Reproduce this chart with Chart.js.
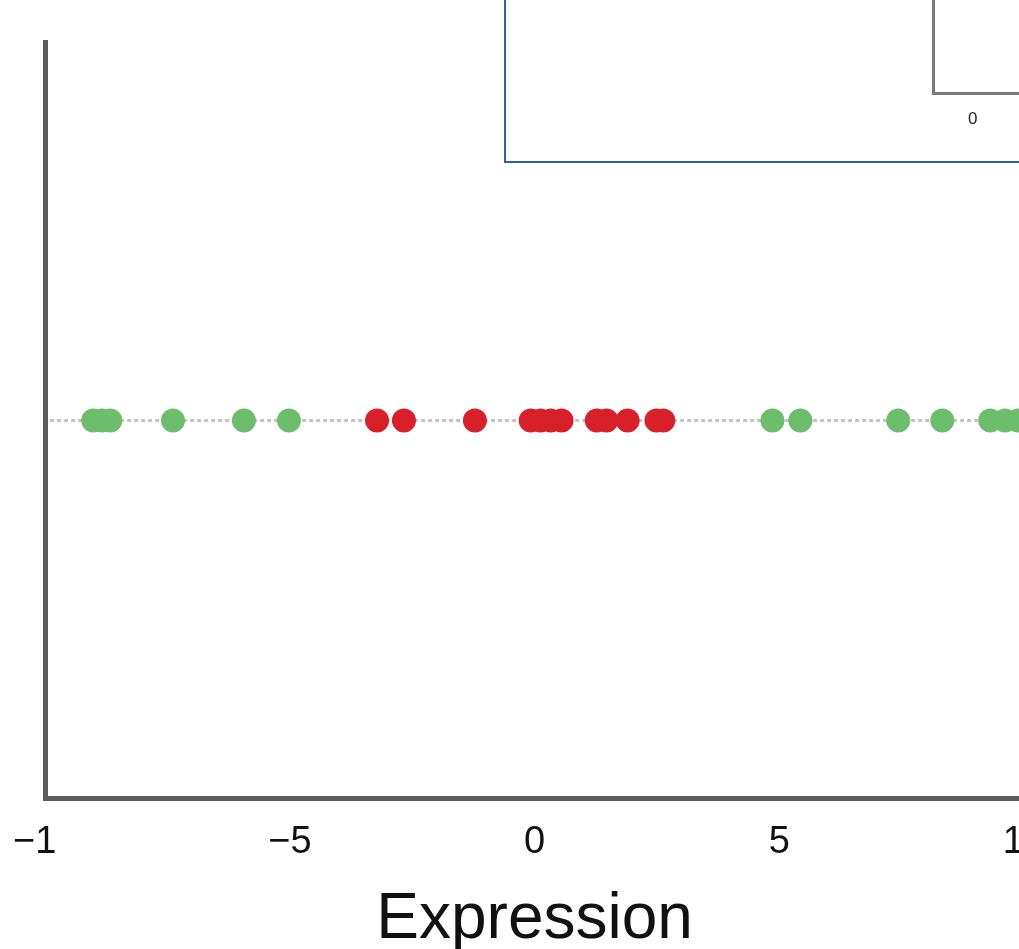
<!DOCTYPE html>
<html>
<head>
<meta charset="utf-8">
<script src="https://cdn.jsdelivr.net/npm/chart.js@4/dist/chart.umd.min.js"></script>
<style>
  html, body { margin: 0; padding: 0; background: #fff; overflow: hidden; }
  #page { position: relative; width: 1019px; height: 949px; overflow: hidden; background: #fff; }
  #mainWrap { position: absolute; left: 0; top: 0; width: 1100px; height: 949px; }
  #insetBox { position: absolute; left: 504px; top: -4px; width: 600px; height: 167px;
              border: 2px solid #2f5fa6; box-sizing: border-box; background: #fff; }
  #insetWrap { position: absolute; left: 881px; top: -20px; width: 300px; height: 158px; }
</style>
</head>
<body>
<div id="page">
  <div id="mainWrap"><canvas id="mainChart"></canvas></div>
  <div id="insetBox"></div>
  <div id="insetWrap"><canvas id="insetChart"></canvas></div>
</div>
<script>
// ---- data ----
const greenX = [-9.02, -8.84, -8.67, -7.39, -5.94, -5.02, 4.86, 5.43, 7.43, 8.33, 9.31, 9.61, 9.88];
const redX   = [-3.22, -2.67, -1.22, -0.08, 0.12, 0.33, 0.55, 1.27, 1.47, 1.90, 2.49, 2.63];
const lineX  = [-9.9, 10.6];
const rowY   = 0.5;
const xTicks = [-10, -5, 0, 5, 10];
// the "0" of -10 is cut off in the figure, a figure space keeps the width
const xTickLabels = ['\u22121\u2007', '\u22125', '0', '5', '10'];
const insetTicks = [0];
const insetTickLabels = ['0'];

const FONT = "'Liberation Sans', Arial, Helvetica, sans-serif";
Chart.defaults.font.family = FONT;

const toPoints = (xs) => xs.map(x => ({ x: x, y: rowY }));

new Chart(document.getElementById('mainChart'), {
    type: 'scatter',
    data: {
        datasets: [
            { label: 'low', data: toPoints(redX), backgroundColor: '#d8202a', pointRadius: 12, pointHoverRadius: 12, borderWidth: 0, order: 1 },
            { label: 'high', data: toPoints(greenX), backgroundColor: '#6cbd6c', pointRadius: 12, pointHoverRadius: 12, borderWidth: 0, order: 1 },
            { label: 'axis', data: toPoints(lineX), type: 'line', showLine: true, borderColor: '#c4c4c4', borderWidth: 3,
              borderDash: [4, 3], pointRadius: 0, fill: false, order: 3 }
        ]
    },
    options: {
        responsive: true, maintainAspectRatio: false, animation: false,
        layout: { padding: { top: 42, left: 14, right: 76, bottom: 0 } },
        plugins: { legend: { display: false }, tooltip: { enabled: false } },
        scales: {
            x: {
                type: 'linear', min: -10, max: 10,
                afterBuildTicks: (axis) => { axis.ticks = xTicks.map(v => ({ value: v })); },
                ticks: {
                    autoSkip: false, maxRotation: 0, color: '#111', padding: 13,
                    font: { size: 38 },
                    callback: (v) => xTickLabels[xTicks.indexOf(v)]
                },
                grid: { display: false },
                border: { color: '#5c5c5c', width: 5 },
                title: { display: true, text: 'Expression', color: '#111', font: { size: 64, lineHeight: 0.9 },
                         padding: { top: 13, bottom: 0 } }
            },
            y: {
                min: 0, max: 1,
                ticks: { display: false },
                grid: { display: false },
                border: { color: '#5c5c5c', width: 5 }
            }
        }
    }
});

new Chart(document.getElementById('insetChart'), {
    type: 'scatter',
    data: { datasets: [{ data: [], pointRadius: 0 }] },
    options: {
        responsive: true, maintainAspectRatio: false, animation: false,
        layout: { padding: { top: 0, left: 44, right: 0, bottom: 0 } },
        plugins: { legend: { display: false }, tooltip: { enabled: false } },
        scales: {
            x: {
                type: 'linear', min: -1, max: 5.25,
                afterBuildTicks: (axis) => { axis.ticks = insetTicks.map(v => ({ value: v })); },
                ticks: { color: '#222', font: { size: 17 }, padding: 8,
                         callback: (v) => insetTickLabels[insetTicks.indexOf(v)] },
                grid: { display: false },
                border: { color: '#7a7a7a', width: 3 }
            },
            y: {
                min: 0, max: 1,
                ticks: { display: false },
                grid: { display: false },
                border: { color: '#7a7a7a', width: 3 }
            }
        }
    }
});
</script>
</body>
</html>
